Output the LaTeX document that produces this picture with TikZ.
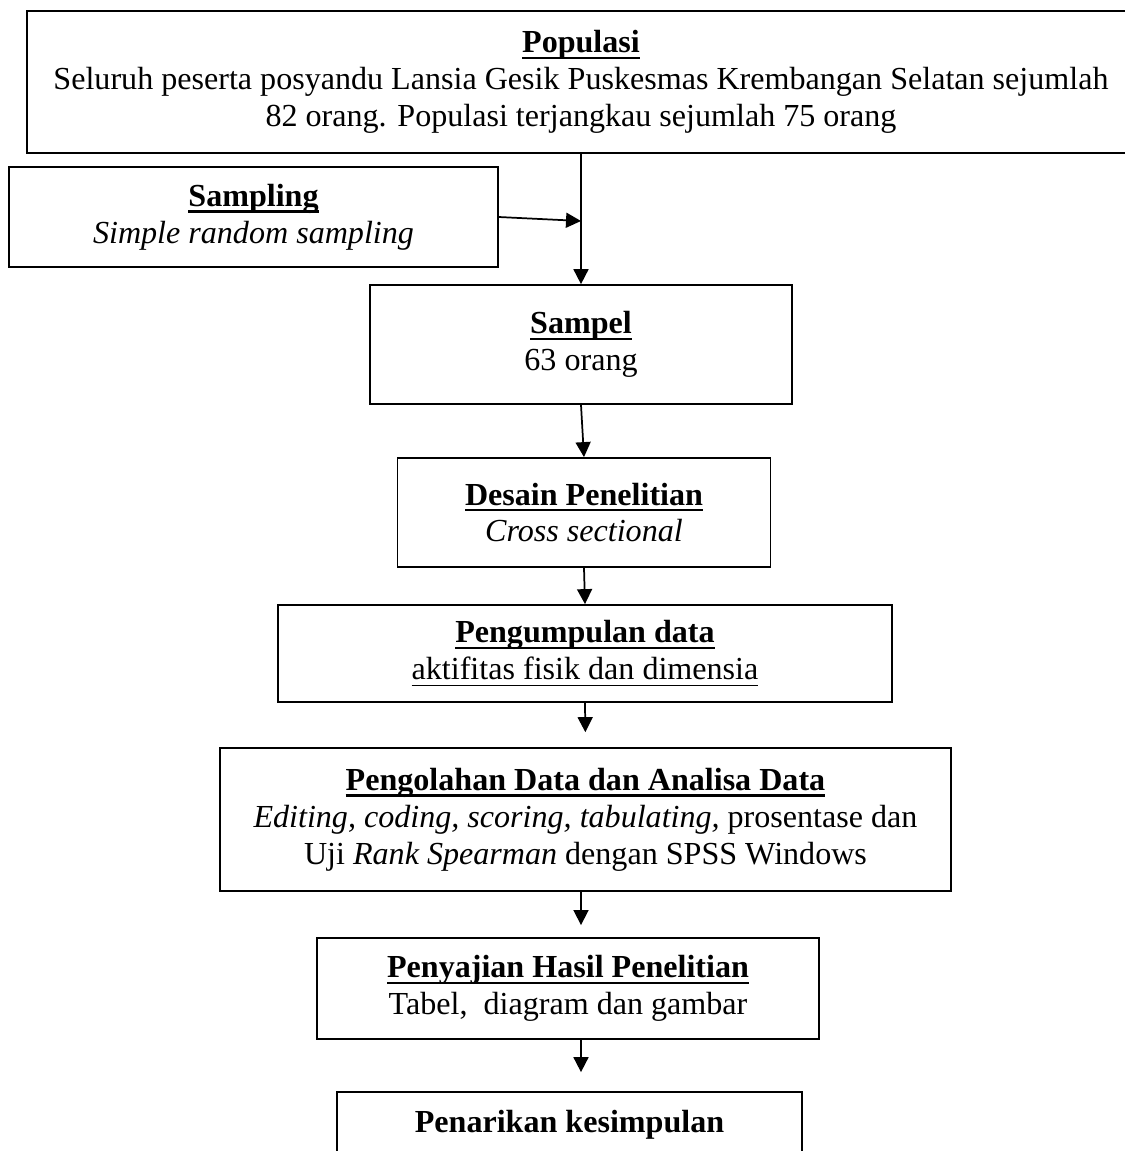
\documentclass[tikz,border=0pt]{standalone}
\usepackage{fontspec}
\setmainfont{Liberation Serif}
\usetikzlibrary{arrows.meta}
\newsavebox\ulbox
\newcommand\uln[2][0.9pt]{\sbox\ulbox{#2}\rlap{\rule[-2.4pt]{\wd\ulbox}{#1}}\usebox\ulbox}
\begin{document}
\begin{tikzpicture}[x=0.374pt, y=-0.374pt,
	box/.style={draw, line width=0.65pt, align=center, inner sep=0pt,
		font=\fontsize{12}{13.8}\selectfont},
	arr/.style={-{Triangle[length=5.6pt, width=5.6pt]}, line width=0.65pt}]
	\useasboundingbox (0,0) rectangle (1125,1151);
	\node[box, minimum width=414.4pt, minimum height=53.1pt] (pop)    at (581,  82)
		{\uln{\textbf{Populasi}}\\ Seluruh peserta posyandu Lansia Gesik Puskesmas Krembangan Selatan sejumlah\\ 82 orang. Populasi terjangkau sejumlah 75 orang};
	\node[box, minimum width=182.9pt, minimum height=37.4pt] (sampling) at (253.5, 217)
		{\uln{\textbf{Sampling}}\\ \textit{Simple random sampling}};
	\node[box, minimum width=157.8pt, minimum height=44.5pt] (sampel) at (581, 344.5)
		{\uln{\textbf{Sampel}}\\ 63 orang};
	\node[box, minimum width=139.5pt, minimum height=40.8pt] (desain) at (584, 512.5)
		{\uln{\textbf{Desain Penelitian}}\\ \textit{Cross sectional}};
	\node[box, minimum width=229.6pt, minimum height=36.3pt] (kumpul) at (585, 653.5)
		{\uln{\textbf{Pengumpulan data}}\\ \uln[0.6pt]{aktifitas fisik dan dimensia}};
	\node[box, minimum width=273.4pt, minimum height=53.5pt] (olah)   at (585.5, 819.5)
		{\uln{\textbf{Pengolahan Data dan Analisa Data}}\\ \textit{Editing, coding, scoring, tabulating,} prosentase dan\\ Uji \textit{Rank Spearman} dengan SPSS Windows};
	\node[box, minimum width=187.7pt, minimum height=37.8pt] (saji)   at (568, 988.5)
		{\uln{\textbf{Penyajian Hasil Penelitian}}\\ Tabel,\ \ diagram dan gambar};
	\node[box, minimum width=173.9pt, minimum height=24.7pt] (tarik)  at (569.5, 1125)
		{\textbf{Penarikan kesimpulan}};
	\coordinate (join) at (581, 221);

	\draw[arr] (sampling.east) -- (join);
	\def\list {pop/sampel/0, sampel/desain/0, desain/kumpul/0, kumpul/olah/5.6}  % straight down
	\foreach \u\v\gap in \list
	{	\draw[arr, shorten >=\gap pt] (\u.south) -- (\v.north);
	}
	\def\lower {olah/saji/4.5, saji/tarik/7.1}  % on the line of join
	\foreach \u\v\gap in \lower
	{	\draw[arr, shorten >=\gap pt] (\u.south -| join) -- (\v.north -| join);
	}
\end{tikzpicture}
\end{document}
